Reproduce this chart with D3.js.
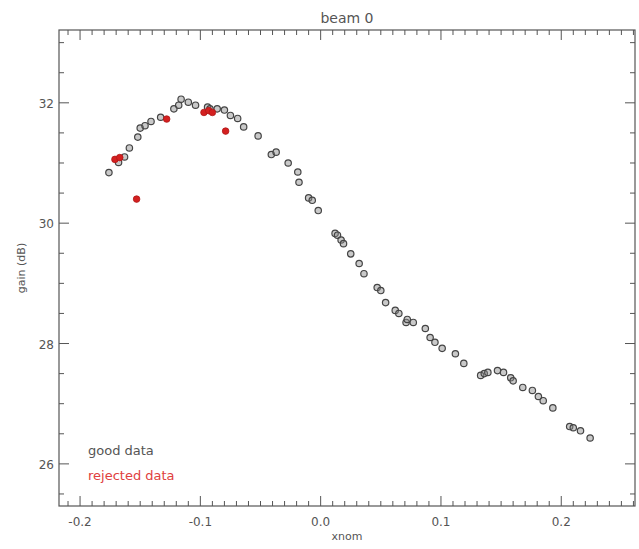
<!DOCTYPE html>
<html>
<head>
<meta charset="utf-8">
<script src="https://cdn.jsdelivr.net/npm/d3@7"></script>
<style>
  body { margin: 0; background: #fff; }
  text { font-family: "DejaVu Sans", sans-serif; fill: #555; }
</style>
</head>
<body>
<div id="chart"></div>
<script>
// good data (xnom, gain)
const goodX = [-0.176, -0.168, -0.163, -0.159, -0.152, -0.150, -0.146, -0.141, -0.133, -0.122,
               -0.118, -0.116, -0.110, -0.104, -0.094, -0.092, -0.086, -0.080, -0.075, -0.069,
               -0.064, -0.052, -0.041, -0.037, -0.027, -0.019, -0.018, -0.010, -0.007, -0.002,
               0.012, 0.014, 0.017, 0.019, 0.025, 0.032, 0.036, 0.047, 0.050, 0.054,
               0.062, 0.065, 0.071, 0.072, 0.077, 0.087, 0.091, 0.095, 0.101, 0.112,
               0.119, 0.133, 0.136, 0.139, 0.147, 0.152, 0.158, 0.160, 0.168, 0.176,
               0.181, 0.185, 0.193, 0.207, 0.210, 0.216, 0.224]
const goodY = [30.84, 31.01, 31.10, 31.25, 31.43, 31.58, 31.62, 31.69, 31.76, 31.90,
               31.96, 32.06, 32.01, 31.96, 31.93, 31.90, 31.90, 31.88, 31.79, 31.74,
               31.60, 31.45, 31.14, 31.18, 31.00, 30.85, 30.68, 30.42, 30.38, 30.21,
               29.83, 29.80, 29.72, 29.66, 29.49, 29.33, 29.16, 28.93, 28.88, 28.68,
               28.55, 28.50, 28.35, 28.40, 28.35, 28.25, 28.10, 28.02, 27.92, 27.83,
               27.67, 27.47, 27.50, 27.52, 27.55, 27.52, 27.43, 27.38, 27.27, 27.22,
               27.12, 27.05, 26.93, 26.62, 26.60, 26.55, 26.43]

// rejected data
const rejX = [-0.171, -0.167, -0.153, -0.128, -0.097, -0.093, -0.090, -0.079]
const rejY = [31.06, 31.09, 30.40, 31.73, 31.84, 31.87, 31.84, 31.53]

const xMajor = [-0.2, -0.1, 0.0, 0.1, 0.2]
const xLabels = ["-0.2", "-0.1", "0.0", "0.1", "0.2"]
const yMajor = [26, 28, 30, 32]
const yLabels = ["26", "28", "30", "32"]

const width = 639, height = 549
const margin = {left: 59, right: 4, top: 30, bottom: 43}

const svg = d3.select("#chart").append("svg")
    .attr("width", width)
    .attr("height", height)

const xScale = d3.scaleLinear().domain([-0.2175, 0.2613]).range([margin.left, width - margin.right])
const yScale = d3.scaleLinear().domain([25.3, 33.21]).range([height - margin.bottom, margin.top])

const x0 = xScale.range()[0], x1 = xScale.range()[1]
const y0 = yScale.range()[0], y1 = yScale.range()[1]

// frame
svg.append("rect")
    .attr("x", x0).attr("y", y1)
    .attr("width", x1 - x0).attr("height", y0 - y1)
    .attr("fill", "none").attr("stroke", "#555").attr("stroke-width", 1.2)

// x ticks: minor every 0.01, major every 0.1, inside on top and bottom
const xTicks = d3.range(-21, 27).map(d => d / 100)
xTicks.forEach(function (t) {
    const isMajor = Math.abs(Math.round(t * 10) - t * 10) < 1e-6
    const len = isMajor ? 10 : 5
    const px = xScale(t)
    if (px < x0 || px > x1) return
    svg.append("line").attr("x1", px).attr("x2", px).attr("y1", y0).attr("y2", y0 - len)
        .attr("stroke", "#555").attr("stroke-width", 1)
    svg.append("line").attr("x1", px).attr("x2", px).attr("y1", y1).attr("y2", y1 + len)
        .attr("stroke", "#555").attr("stroke-width", 1)
})

// y ticks: minor every 0.5, major every 2
const yTicks = d3.range(51, 67).map(d => d / 2)
yTicks.forEach(function (t) {
    const isMajor = t % 2 === 0
    const len = isMajor ? 10 : 5
    const py = yScale(t)
    if (py < y1 || py > y0) return
    svg.append("line").attr("x1", x0).attr("x2", x0 + len).attr("y1", py).attr("y2", py)
        .attr("stroke", "#555").attr("stroke-width", 1)
    svg.append("line").attr("x1", x1).attr("x2", x1 - len).attr("y1", py).attr("y2", py)
        .attr("stroke", "#555").attr("stroke-width", 1)
})

// tick labels
svg.selectAll(".xlab").data(xMajor).enter().append("text")
    .attr("x", d => xScale(d))
    .attr("y", y0 + 20)
    .attr("text-anchor", "middle")
    .style("font-size", "12px")
    .text((d, i) => xLabels[i])

svg.selectAll(".ylab").data(yMajor).enter().append("text")
    .attr("x", x0 - 5)
    .attr("y", d => yScale(d) + 5)
    .attr("text-anchor", "end")
    .style("font-size", "12px")
    .text((d, i) => yLabels[i])

// axis titles and title
svg.append("text")
    .attr("x", (x0 + x1) / 2).attr("y", y0 + 34)
    .attr("text-anchor", "middle").style("font-size", "11px")
    .text("xnom")

svg.append("text")
    .attr("transform", "translate(25," + ((y0 + y1) / 2) + ") rotate(-90)")
    .attr("text-anchor", "middle").style("font-size", "11px")
    .text("gain (dB)")

svg.append("text")
    .attr("x", (x0 + x1) / 2).attr("y", 23)
    .attr("text-anchor", "middle").style("font-size", "14px")
    .text("beam 0")

// good points
svg.selectAll(".good").data(goodX).enter().append("circle")
    .attr("cx", d => xScale(d))
    .attr("cy", (d, i) => yScale(goodY[i]))
    .attr("r", 3.2)
    .style("fill", "#888")
    .style("fill-opacity", 0.45)
    .style("stroke", "#444")
    .style("stroke-width", 1.2)

// rejected points
svg.selectAll(".rej").data(rejX).enter().append("circle")
    .attr("cx", d => xScale(d))
    .attr("cy", (d, i) => yScale(rejY[i]))
    .attr("r", 3.3)
    .style("fill", "#d42020")
    .style("stroke", "#b01818")
    .style("stroke-width", 0.8)

// legend
svg.append("text")
    .attr("x", 88).attr("y", 455)
    .style("font-size", "13px").style("fill", "#555")
    .text("good data")
svg.append("text")
    .attr("x", 88).attr("y", 480)
    .style("font-size", "13px").style("fill", "#e04040")
    .text("rejected data")
</script>
</body>
</html>
